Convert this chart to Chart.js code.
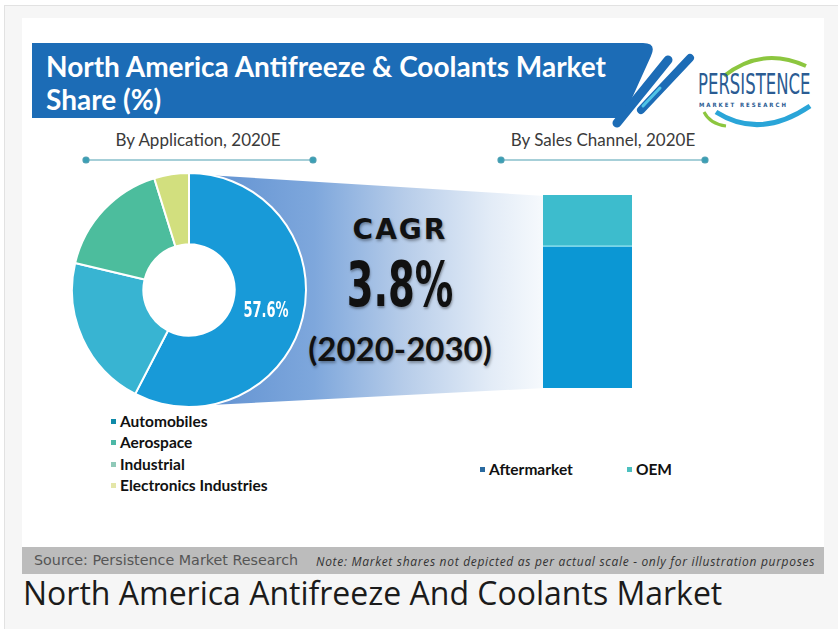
<!DOCTYPE html>
<html>
<head>
<meta charset="utf-8">
<script src="https://cdn.jsdelivr.net/npm/chart.js@4/dist/chart.umd.min.js"></script>
<style>
  body { margin: 0; width: 838px; height: 629px; background: #fff; position: relative; overflow: hidden; font-family: Lato, sans-serif; }
  .abs { position: absolute; }
  #card { left: 4px; top: 5px; width: 840px; height: 640px; background: #f6f6f6; border: 1px solid #e2e2e2; }
  #pic { left: 22px; top: 18px; width: 802px; height: 529px; background: #fff; }
  #funnel { left: 190px; top: 174px; width: 355px; height: 232px;
    clip-path: polygon(0 0, 100% 22px, 100% 214px, 0 100%);
    background: linear-gradient(90deg, #5d8fd0 0%, #7ea7dc 35%, #b6cce9 60%, #e3ecf7 85%, #f7fafd 100%); }
  .sub { font-size: 17px; color: #3a3a3a; text-align: center; width: 260px; }
  .cagr { width: 240px; left: 280px; text-align: center; color: #111; text-shadow: 1px 2px 3px rgba(0,0,0,0.35); }
  .leg { font-weight: bold; font-size: 15.5px; color: #111; line-height: 21.3px; }
  .leg i { display: inline-block; width: 5px; height: 5px; margin-right: 4px; vertical-align: 3px; }
  #source { left: 22px; top: 547px; width: 802px; height: 27px; background: #bcbcbc; }
  #caption { left: 23px; top: 571px; font-family: "Open Sans", sans-serif; font-size: 32px; color: #1b1b1b; }
</style>
</head>
<body>
<div id="card" class="abs"></div>
<div id="pic" class="abs"></div>

<svg class="abs" style="left:0;top:0" width="838" height="200">
  <path d="M32,43 L643,43 Q657,43 651,56 L623,118 L32,118 Z" fill="#1c6cb6"/>
  <line x1="617" y1="123" x2="668" y2="60" stroke="#1c6cb6" stroke-width="9" stroke-linecap="round"/>
  <line x1="641" y1="110" x2="690" y2="58" stroke="#1c6cb6" stroke-width="8" stroke-linecap="round"/>
  <line x1="643" y1="106" x2="660" y2="88" stroke="#4fc3e6" stroke-width="3" stroke-linecap="round"/>
  <path d="M724,76 Q762,46 806,66" fill="none" stroke="#8cc63f" stroke-width="4"/>
  <path d="M716,112 Q760,140 810,106" fill="none" stroke="#2aa5d8" stroke-width="5"/>
  <path d="M704,112 Q710,124 726,126" fill="none" stroke="#8cc63f" stroke-width="3"/>
  <text transform="translate(698,94) scale(0.59,1)" font-family="DejaVu Sans" font-size="28" fill="#2b5c93">PERSISTENCE</text>
  <text transform="translate(699,107) scale(0.9,1)" font-family="DejaVu Sans" font-weight="bold" font-size="6" letter-spacing="2.2" fill="#2b5c93">MARKET RESEARCH</text>
  <text x="46" y="77" font-family="Lato" font-weight="bold" font-size="28" fill="#fff">North America Antifreeze &amp; Coolants Market</text>
  <text x="46" y="110" font-family="Lato" font-weight="bold" font-size="28" fill="#fff">Share (%)</text>
  <g stroke="#4e9fb2" stroke-width="1.2" fill="#3a9fb5">
    <line x1="86" y1="160" x2="313" y2="160"/>
    <circle cx="86" cy="160" r="3"/><circle cx="313" cy="160" r="3"/>
    <line x1="501" y1="160" x2="705" y2="160"/>
    <circle cx="501" cy="160" r="3"/><circle cx="705" cy="160" r="3"/>
  </g>
</svg>

<div class="abs sub" style="left:68px;top:129px">By Application, 2020E</div>
<div class="abs sub" style="left:473px;top:129px">By Sales Channel, 2020E</div>

<div id="funnel" class="abs"></div>

<div class="abs cagr" style="top:213px;font-family:'DejaVu Sans';font-weight:bold;font-size:28px;letter-spacing:2px">CAGR</div>
<div class="abs cagr" style="top:250px;font-family:'DejaVu Sans';font-weight:bold;font-size:63px;line-height:70px;transform:scaleX(0.61)">3.8%</div>
<div class="abs cagr" style="top:328px;font-family:Lato;font-weight:bold;font-size:33px">(2020-2030)</div>

<canvas id="appChart" class="abs" style="left:71px;top:172px" width="236" height="236"></canvas>
<canvas id="channelChart" class="abs" style="left:543px;top:195px" width="89" height="193"></canvas>

<div id="appLegend" class="abs leg" style="left:111px;top:411px"></div>
<div id="channelLegend" class="abs leg" style="left:480px;top:459px"></div>

<div id="source" class="abs">
  <span class="abs" style="left:12px;top:5px;font-size:14.3px;color:#555;font-family:'DejaVu Sans'">Source: Persistence Market Research</span>
  <span class="abs" style="left:294px;top:6px;font-size:12px;letter-spacing:0.7px;color:#333;font-style:italic;font-family:'Open Sans'">Note: Market shares not depicted as per actual scale - only for illustration purposes</span>
</div>
<div id="caption" class="abs">North America Antifreeze And Coolants Market</div>

<script>
// data
const appCategories = ['Automobiles', 'Aerospace', 'Industrial', 'Electronics Industries'];
const appShares = [57.6, 21.1, 16.5, 4.8];
const appColors = ['#189ad8', '#38b4d2', '#4cbd9d', '#d2df7e'];
const appLegendColors = ['#0f8aa8', '#4cb8a6', '#8fc9b8', '#e4e6a8'];

const channelNames = ['Aftermarket', 'OEM'];
const channelShares = [73, 27];
const channelColors = ['#0b97d4', '#3dbccd'];
const channelLegendColors = ['#2a6aa0', '#4cc0bf'];

// legends
document.getElementById('appLegend').innerHTML = appCategories
    .map((c, i) => `<div><i style="background:${appLegendColors[i]}"></i>${c}</div>`).join('');
document.getElementById('channelLegend').innerHTML = channelNames
    .map((c, i) => `<span style="margin-right:${i == 0 ? 54 : 0}px"><i style="background:${channelLegendColors[i]}"></i>${c}</span>`).join('');

// white hole + label for the biggest slice
const sliceLabel = {
    id: 'sliceLabel',
    beforeDatasetsDraw(chart) {
        const arc = chart.getDatasetMeta(0).data[0];
        const ctx = chart.ctx;
        ctx.save();
        ctx.fillStyle = '#fff';
        ctx.beginPath();
        ctx.arc(arc.x, arc.y, arc.innerRadius + 1, 0, Math.PI * 2);
        ctx.fill();
        ctx.restore();
    },
    afterDatasetsDraw(chart) {
        const arc = chart.getDatasetMeta(0).data[0];
        const pos = arc.tooltipPosition();
        const ctx = chart.ctx;
        ctx.save();
        ctx.translate(pos.x - 2, pos.y + 2);
        ctx.scale(0.62, 1);
        ctx.font = 'bold 21px "DejaVu Sans"';
        ctx.fillStyle = '#fff';
        ctx.textAlign = 'center';
        ctx.textBaseline = 'middle';
        ctx.fillText(appShares[0] + '%', 0, 0);
        ctx.restore();
    }
};

new Chart(document.getElementById('appChart'), {
    type: 'doughnut',
    data: {
        labels: appCategories,
        datasets: [{
            data: appShares,
            backgroundColor: appColors,
            borderColor: '#ffffff',
            borderWidth: 2
        }]
    },
    options: {
        responsive: false, animation: false,
        cutout: '39%',
        plugins: { legend: { display: false }, tooltip: { enabled: false } }
    },
    plugins: [sliceLabel]
});

new Chart(document.getElementById('channelChart'), {
    type: 'bar',
    data: {
        labels: ['2020E'],
        datasets: channelNames.map((n, i) => ({
            label: n,
            data: [channelShares[i]],
            backgroundColor: channelColors[i],
            borderColor: i == 1 ? '#9fe8f2' : channelColors[i],
            borderWidth: i == 1 ? { bottom: 2 } : 0,
            borderSkipped: false,
            barPercentage: 1, categoryPercentage: 1
        }))
    },
    options: {
        responsive: false, animation: false,
        layout: { padding: 0 },
        plugins: { legend: { display: false }, tooltip: { enabled: false } },
        scales: {
            x: { display: false, stacked: true },
            y: { display: false, stacked: true, min: 0, max: 100 }
        }
    }
});
</script>
</body>
</html>
